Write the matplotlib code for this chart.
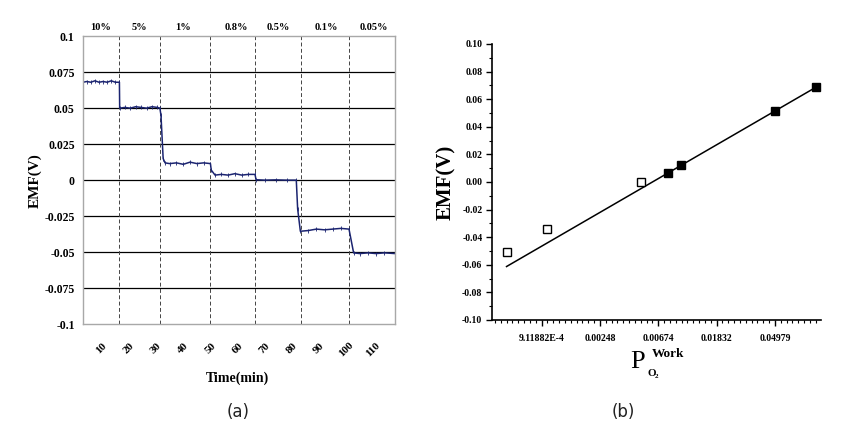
import numpy as np
import matplotlib
matplotlib.use("Agg")
import matplotlib.pyplot as plt
from matplotlib.ticker import FixedLocator, NullFormatter

plt.rcParams['font.family'] = ['Liberation Serif', 'DejaVu Serif']
plt.rcParams['font.weight'] = 'bold'

# (a) EMF vs time, step changes of O2 concentration
t_min = [3.1, 4.5, 6.0, 7.5, 9.0, 10.5, 12.0, 13.5, 15.0, 16.5,
         16.6, 18.5, 20.5, 22.5, 24.5, 26.5, 28.5, 30.5, 31.4,
         31.8, 32.6, 33.3, 35.0, 37.5, 40.0, 42.5, 45.0, 47.5, 50.0,
         50.3, 51.7, 54.0, 56.5, 59.0, 61.5, 64.0, 66.4,
         66.8, 70.0, 74.0, 78.0, 81.6,
         82.1, 83.1, 86.0, 89.0, 92.0, 95.0, 98.0, 101.0,
         102.7, 105.0, 108.0, 111.0, 114.0, 118.0]
emf_t = [0.068, 0.0685, 0.068, 0.069, 0.068, 0.0685, 0.068, 0.069, 0.068, 0.068,
         0.050, 0.0505, 0.050, 0.051, 0.0505, 0.050, 0.051, 0.0505, 0.050,
         0.045, 0.015, 0.012, 0.0115, 0.012, 0.011, 0.0125, 0.0115, 0.012, 0.0115,
         0.007, 0.0035, 0.004, 0.0035, 0.0045, 0.0035, 0.004, 0.004,
         0.0003, 0.0, 0.0002, 0.0, 0.0,
         -0.020, -0.0355, -0.035, -0.034, -0.0345, -0.034, -0.0335, -0.034,
         -0.0505, -0.051, -0.0505, -0.051, -0.0505, -0.051]
switch_t = [16.5, 31.5, 50.0, 66.4, 83.3, 101.1]
conc_labels = ['10%', '5%', '1%', '0.8%', '0.5%', '0.1%', '0.05%']
conc_pos = [9.4, 23.7, 40.0, 59.5, 75.0, 92.7, 110.0]
time_ticks = [10, 20, 30, 40, 50, 60, 70, 80, 90, 100, 110]
emf_ticks_a = [0.1, 0.075, 0.05, 0.025, 0, -0.025, -0.05, -0.075, -0.1]
emf_labels_a = ['0.1', '0.075', '0.05', '0.025', '0', '-0.025', '-0.05', '-0.075', '-0.1']

# (b) EMF vs oxygen partial pressure
p_o2 = [0.0005, 0.001, 0.005, 0.008, 0.01, 0.05, 0.1]
emf_p = [-0.051, -0.034, 0.0, 0.0063, 0.0125, 0.0515, 0.0685]
filled = [False, False, False, True, True, True, True]
p_ticks = [9.11882e-4, 0.00248, 0.00674, 0.01832, 0.04979]
p_labels = ['9.11882E-4', '0.00248', '0.00674', '0.01832', '0.04979']

fig = plt.figure(figsize=(8.53, 4.41), dpi=100)

# ---- panel a
ax1 = fig.add_axes([0.0973, 0.265, 0.366, 0.653])
ax1.plot(t_min, emf_t, color='#1b2470', lw=1.1)
ax1.plot(t_min, emf_t, ls='none', marker='|', ms=2.5, color='#1b2470', mew=0.6)
for y in emf_ticks_a[1:-1]:
    ax1.axhline(y, color='black', lw=0.9, zorder=0)
for x in switch_t:
    ax1.axvline(x, color='#444444', lw=0.7, ls=(0, (4, 2.5)), zorder=0)
ax1.set_xlim(3.1, 118)
ax1.set_ylim(-0.1, 0.1)
ax1.set_yticks(emf_ticks_a)
ax1.set_yticklabels(emf_labels_a, fontsize=8.5, fontweight='bold')
ax1.set_xticks(time_ticks)
ax1.set_xticklabels([str(v) for v in time_ticks], rotation=45, fontsize=8,
                    fontweight='bold', ha='center', va='top')
ax1.tick_params(axis='both', length=0)
ax1.tick_params(axis='x', pad=12)
ax1.tick_params(axis='y', pad=6)
for s in ax1.spines.values():
    s.set_color('#a8a8a8')
    s.set_linewidth(1.0)
for lab, xp in zip(conc_labels, conc_pos):
    ax1.text(xp, 0.106, lab, ha='center', va='center', fontsize=7.5, fontweight='bold')
ax1.set_ylabel('EMF(V)', fontsize=11, fontweight='bold', labelpad=2)
fig.text(237 / 853, 1 - 378 / 441, 'Time(min)', ha='center', va='center',
         fontsize=10, fontweight='bold')

# ---- panel b
ax2 = fig.add_axes([0.5768, 0.2744, 0.3857, 0.6259])
ax2.set_xscale('log', base=np.e)
lnp = np.log(p_o2)
fit_x = [lnp[i] for i in range(len(p_o2)) if filled[i]]
fit_y = [emf_p[i] for i in range(len(p_o2)) if filled[i]]
k, b = np.polyfit(fit_x, fit_y, 1)
ends = np.array([p_o2[0], p_o2[-1]])
ax2.plot(ends, k * np.log(ends) + b, color='black', lw=1.1)
for p, e, f in zip(p_o2, emf_p, filled):
    ax2.plot(p, e, marker='s', ms=5.5, mec='black', mew=1.0,
             mfc='black' if f else 'white', ls='none', zorder=3)
ax2.set_xlim(np.exp(-7.85), np.exp(-2.21))
ax2.set_ylim(-0.1, 0.1)
ax2.xaxis.set_major_locator(FixedLocator(p_ticks))
ax2.set_xticklabels(p_labels, fontsize=7, fontweight='bold')
minor_x = [np.exp(v / 10) for v in range(-78, -22) if v % 10 != 0]
ax2.xaxis.set_minor_locator(FixedLocator(minor_x))
ax2.xaxis.set_minor_formatter(NullFormatter())
ax2.set_yticks(np.arange(-0.10, 0.101, 0.02))
ax2.set_yticklabels(['%.2f' % v if abs(v) > 1e-9 else '0.00'
                     for v in np.arange(-0.10, 0.101, 0.02)], fontsize=7, fontweight='bold')
ax2.yaxis.set_minor_locator(FixedLocator(np.arange(-0.09, 0.1, 0.02)))
ax2.tick_params(axis='both', which='major', direction='out', length=4, width=1, pad=3)
ax2.tick_params(axis='both', which='minor', direction='out', length=2.5, width=0.8)
ax2.tick_params(axis='x', which='major', pad=6)
ax2.spines['top'].set_visible(False)
ax2.spines['right'].set_visible(False)
ax2.spines['left'].set_linewidth(1.2)
ax2.spines['bottom'].set_linewidth(1.2)
ax2.set_ylabel('EMF(V)', fontsize=15, fontweight='bold', labelpad=4)
fig.text(638 / 853, 1 - 362 / 441, 'P', ha='center', va='center', fontsize=19,
         fontweight='normal')
fig.text(652 / 853, 1 - 374 / 441, 'O', ha='center', va='center', fontsize=8)
fig.text(656.5 / 853, 1 - 377 / 441, '2', ha='center', va='center', fontsize=5)
fig.text(668 / 853, 1 - 354 / 441, 'Work', ha='center', va='center', fontsize=9.5)

# captions
fig.text(238 / 853, 1 - 412 / 441, '(a)', ha='center', va='center', fontsize=12,
         family='DejaVu Sans', fontweight='normal', color='#222222')
fig.text(623 / 853, 1 - 412 / 441, '(b)', ha='center', va='center', fontsize=12,
         family='DejaVu Sans', fontweight='normal', color='#222222')

fig.savefig('out.png', dpi=100)
